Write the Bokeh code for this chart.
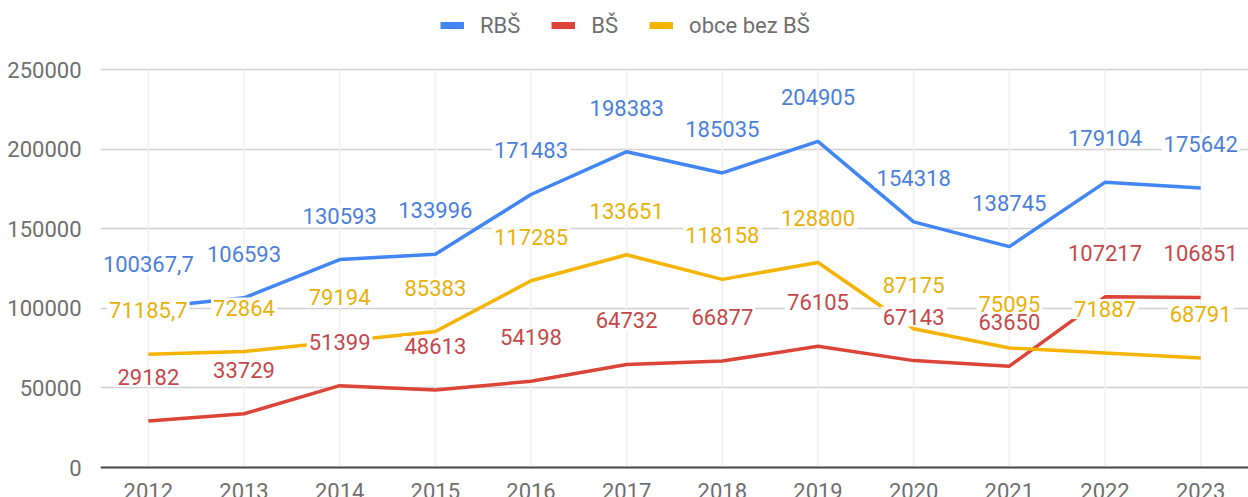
from bokeh.plotting import figure
from bokeh.models import (Range1d, FixedTicker, NumeralTickFormatter, Span,
                          Legend, LegendItem)
from bokeh.core.properties import value
from bokeh.embed import file_html
from bokeh.resources import INLINE

years = ["2012", "2013", "2014", "2015", "2016", "2017", "2018", "2019",
         "2020", "2021", "2022", "2023"]
rbs = [100367.7, 106593, 130593, 133996, 171483, 198383, 185035, 204905,
       154318, 138745, 179104, 175642]
bs = [29182, 33729, 51399, 48613, 54198, 64732, 66877, 76105, 67143, 63650,
      107217, 106851]
obce = [71185.7, 72864, 79194, 85383, 117285, 133651, 118158, 128800, 87175,
        75095, 71887, 68791]
series_names = ["RBŠ", "BŠ", "obce bez BŠ"]
y_ticks = [0, 50000, 100000, 150000, 200000, 250000]

line_colors = ["#4285F4", "#DB4437", "#F4B400"]
label_colors = ["#4a7fdc", "#c4484a", "#e8b10a"]
FONT = "Roboto"


def fmt(v):
    return str(v).replace(".", ",")


W, H = 1248, 497
frame_left = 100
ppu = 398 / 250000.0
y_bottom = -30 / ppu
y_top = 250000 + 69 / ppu

p = figure(width=W, height=H, x_range=years,
           y_range=Range1d(y_bottom, y_top),
           output_backend="svg", toolbar_location=None,
           x_axis_location=None, y_axis_location="left",
           min_border_left=frame_left, min_border_right=0,
           min_border_top=0, min_border_bottom=0)
p.outline_line_color = None
p.background_fill_color = "white"
p.border_fill_color = "white"

# y axis
ax = p.yaxis[0]
ax.ticker = FixedTicker(ticks=y_ticks)
ax.formatter = NumeralTickFormatter(format="0")
ax.axis_line_color = None
ax.major_tick_line_color = None
ax.minor_tick_line_color = None
ax.major_label_standoff = 13
ax.major_label_text_font = FONT
ax.major_label_text_font_size = "22px"
ax.major_label_text_color = "#6f6f6f"

p.ygrid.ticker = FixedTicker(ticks=y_ticks)
p.ygrid.grid_line_color = "#d0d0d0"
p.ygrid.grid_line_width = 1.5
p.xgrid.visible = False

# vertical light gridlines
p.segment(x0=years, y0=[y_ticks[0]] * len(years), x1=years,
          y1=[y_ticks[-1]] * len(years), line_color="#efefef", line_width=1.5)

# zero axis line
p.add_layout(Span(location=0, dimension="width", line_color="#4a4a4a",
                  line_width=2))

# x tick labels
p.text(x=years, y=[0] * len(years), text=years, text_align="center",
       text_baseline="top", y_offset=15, text_font=value(FONT),
       text_font_size="22px", text_color="#6f6f6f")

data = [rbs, bs, obce]
for vals, c in zip(data, line_colors):
    p.line(x=years, y=vals, line_color=c, line_width=3.5)

for vals, c in zip(data, label_colors):
    p.text(x=years, y=vals, text=[fmt(v) for v in vals], text_align="center",
           text_baseline="middle", y_offset=-44, text_font=value(FONT),
           text_font_size="22px", text_color=c,
           background_fill_color="white", padding=2)

# legend with thick swatches (dummy renderers, no visible data)
items = []
for name, c in zip(series_names, line_colors):
    r = p.line(x=[years[0]], y=[float("nan")], line_color=c, line_width=7)
    items.append(LegendItem(label=name, renderers=[r]))

legend = Legend(items=items, orientation="horizontal",
                location=(340, 497 - 38), padding=0, margin=0,
                spacing=31, glyph_width=24, glyph_height=26,
                label_standoff=16, label_text_font=FONT,
                label_text_font_size="22px", label_text_color="#6f6f6f",
                background_fill_alpha=0, border_line_color=None)
p.add_layout(legend, "center")

open("out.html", "w").write(file_html(p, INLINE))
